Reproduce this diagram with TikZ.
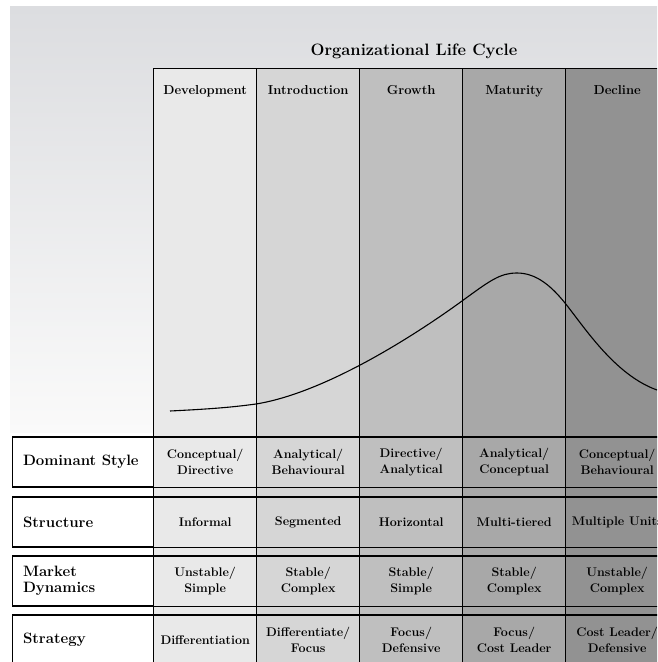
\documentclass[tikz,border=0pt]{standalone}
\usetikzlibrary{positioning}

\definecolor{bgtop}{RGB}{220,221,224}
\definecolor{bgbot}{RGB}{250,250,250}
\definecolor{devgray}{RGB}{233,233,233}
\definecolor{intgray}{RGB}{214,214,214}
\definecolor{grogray}{RGB}{191,191,191}
\definecolor{matgray}{RGB}{168,168,168}
\definecolor{decgray}{RGB}{146,146,146}

\begin{document}
\begin{tikzpicture}[%
    x=1pt, y=-1pt,
    line width=1.4pt,
    stage/.style={draw, anchor=north west, inner sep=0pt,
      minimum width=103pt, minimum height=620pt},
    phase/.style={font=\fontsize{13}{15}\selectfont\bfseries, anchor=base},
    rowbox/.style={draw, fill=white, anchor=north west, inner sep=0pt,
      minimum width=141pt, minimum height=49pt},
    rowname/.style={font=\fontsize{15}{16}\selectfont\bfseries,
      align=left, anchor=west},
    cell/.style={font=\fontsize{12.5}{16}\selectfont\bfseries, align=center},
    title/.style={font=\fontsize{16.5}{18}\selectfont\bfseries}
  ]

  \useasboundingbox (0,0) rectangle (657,662);
  \clip (0,0) rectangle (657,662);

  % backdrop
  \shade[top color=bgtop, bottom color=bgbot] (10,6) rectangle (657,432);

  % the five stages
  \node[stage, fill=devgray] (dev) at (153,68) {};
  \node[stage, fill=intgray] (int) at (256,68) {};
  \node[stage, fill=grogray] (gro) at (359,68) {};
  \node[stage, fill=matgray] (mat) at (462,68) {};
  \node[stage, fill=decgray] (dec) at (565,68) {};

  \node[title] (olc) at (414,51) {Organizational Life Cycle};

  \node[phase, yshift=-26pt] at (dev.north) {Development};
  \node[phase, yshift=-26pt] at (int.north) {Introduction};
  \node[phase, yshift=-26pt] at (gro.north) {Growth};
  \node[phase, yshift=-26pt] at (mat.north) {Maturity};
  \node[phase, yshift=-26pt] at (dec.north) {Decline};

  % life cycle curve
  \draw[line width=1.1pt]
    (170,411) .. controls (210,409) and (230,407.5) .. (256,404)
              .. controls (330,392) and (425,328) .. (462,301)
              .. controls (490,280.6) and (500,273) .. (517,273)
              .. controls (537,273) and (552,287) .. (565,303)
              .. controls (585,328) and (615,375) .. (657,390);

  % row bands
  \node[rowbox] (ds) at (12,437) {};
  \node[rowbox] (st) at (12,497) {};
  \node[rowbox] (md) at (12,556) {};
  \node[rowbox] (sg) at (12,615) {};
  \foreach \r in {ds, st, md, sg}{
    \draw (\r.north west) -- +(660,0);
    \draw (\r.south west) -- +(660,0);
  }

  \node[rowname] at ([xshift=7pt]ds.west) {Dominant Style};
  \node[rowname] at ([xshift=7pt]st.west) {Structure};
  \node[rowname] at ([xshift=7pt]md.west) {Market\\Dynamics};
  \node[rowname] at ([xshift=7pt]sg.west) {Strategy};

  % cells
  \node[cell] (ds-dev) at (dev |- ds) {Conceptual/\\Directive};
  \node[cell] (ds-int) at (int |- ds) {Analytical/\\Behavioural};
  \node[cell] (ds-gro) at (gro |- ds) {Directive/\\Analytical};
  \node[cell] (ds-mat) at (mat |- ds) {Analytical/\\Conceptual};
  \node[cell] (ds-dec) at (dec |- ds) {Conceptual/\\Behavioural};

  \node[cell] (st-dev) at (dev |- st) {Informal};
  \node[cell] (st-int) at (int |- st) {Segmented};
  \node[cell] (st-gro) at (gro |- st) {Horizontal};
  \node[cell] (st-mat) at (mat |- st) {Multi-tiered};
  \node[cell] (st-dec) at (dec |- st) {Multiple Units};

  \node[cell] (md-dev) at (dev |- md) {Unstable/\\Simple};
  \node[cell] (md-int) at (int |- md) {Stable/\\Complex};
  \node[cell] (md-gro) at (gro |- md) {Stable/\\Simple};
  \node[cell] (md-mat) at (mat |- md) {Stable/\\Complex};
  \node[cell] (md-dec) at (dec |- md) {Unstable/\\Complex};

  \node[cell] (sg-dev) at (dev |- sg) {Differentiation};
  \node[cell] (sg-int) at (int |- sg) {Differentiate/\\Focus};
  \node[cell] (sg-gro) at (gro |- sg) {Focus/\\Defensive};
  \node[cell] (sg-mat) at (mat |- sg) {Focus/\\Cost Leader};
  \node[cell] (sg-dec) at (dec |- sg) {Cost Leader/\\Defensive};
\end{tikzpicture}
\end{document}
